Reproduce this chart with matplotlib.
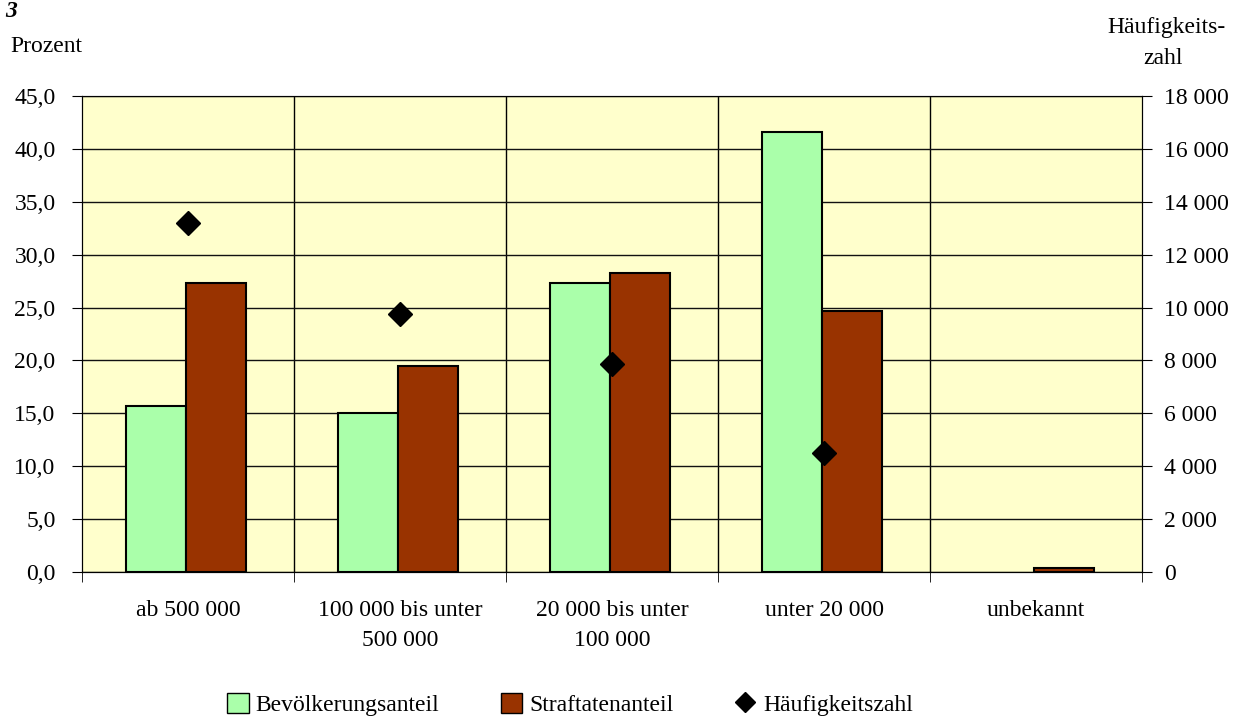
import numpy as np
import matplotlib.pyplot as plt
from matplotlib.ticker import FuncFormatter, MultipleLocator
from matplotlib.lines import Line2D
from matplotlib.patches import Patch

plt.rcParams["font.family"] = ["Liberation Serif", "DejaVu Serif"]

# Gemeindegrößenklassen
categories = ["ab 500 000", "100 000 bis unter\n500 000", "20 000 bis unter\n100 000",
              "unter 20 000", "unbekannt"]
bevoelkerung = [15.7, 15.0, 27.3, 41.6, 0.0]
straftaten = [27.3, 19.5, 28.3, 24.7, 0.4]
hz = [13200, 9750, 7850, 4480, np.nan]

green = "#aaffaa"
red = "#993300"
bg = "#ffffcc"
fs = 17

fig = plt.figure(figsize=(12.42, 7.2), dpi=100)
ax = fig.add_axes([0.066, 0.2056, 0.8535, 0.6611])
ax.set_facecolor(bg)

x = np.arange(len(categories))
w = 0.283
shift = -0.01
bev_plot = [v if v > 0 else np.nan for v in bevoelkerung]
ax.bar(x - w / 2 + shift, bev_plot, w, color=green, edgecolor="black", linewidth=1.5, zorder=3)
ax.bar(x + w / 2 + shift, straftaten, w, color=red, edgecolor="black", linewidth=1.5, zorder=3)

ax.set_xlim(-0.5, len(categories) - 0.5)
ax.set_ylim(0, 45)
ax.yaxis.set_major_locator(MultipleLocator(5))
ax.yaxis.set_major_formatter(FuncFormatter(lambda v, p: f"{v:.1f}".replace(".", ",")))
ax.grid(axis="y", color="#111111", linewidth=1, zorder=0)

# category separators
for b in x[:-1] + 0.5:
    ax.axvline(b, color="black", linewidth=1, zorder=1)
ax.set_xticks(x)
ax.set_xticklabels(categories, fontsize=fs, linespacing=1.6)
ax.tick_params(axis="x", length=0, pad=20)
ax.set_xticks(np.arange(-0.5, len(categories), 1), minor=True)
ax.tick_params(axis="x", which="minor", length=7, direction="out", color="black")
ax.tick_params(axis="y", labelsize=fs, length=7, direction="out", pad=12)

ax.spines["top"].set_color("#808080")
for s in ["left", "bottom", "right"]:
    ax.spines[s].set_color("black")

ax2 = ax.twinx()
ax2.set_ylim(0, 18000)
ax2.yaxis.set_major_locator(MultipleLocator(2000))
ax2.yaxis.set_major_formatter(FuncFormatter(lambda v, p: f"{int(v):,}".replace(",", " ")))
ax2.tick_params(axis="y", labelsize=fs, length=7, direction="out", pad=9)
ax2.plot(x, hz, linestyle="none", marker="D", markersize=12, color="black", zorder=5)

fig.text(0.004, 0.998, "3", fontsize=fs, fontstyle="italic", fontweight="bold", va="top")
fig.text(0.008, 0.935, "Prozent", fontsize=fs, va="center")
fig.text(0.987, 0.962, "Häufigkeits-", fontsize=fs, ha="right", va="center")
fig.text(0.952, 0.919, "zahl", fontsize=fs, ha="right", va="center")

handles = [Patch(facecolor=green, edgecolor="black"),
           Patch(facecolor=red, edgecolor="black"),
           Line2D([], [], linestyle="none", marker="D", color="black", markersize=10)]
fig.legend(handles, ["Bevölkerungsanteil", "Straftatenanteil", "Häufigkeitszahl"],
           loc="center", bbox_to_anchor=(0.459, 0.021), ncol=3, frameon=False,
           fontsize=fs, handlelength=0.9, handleheight=0.9, handletextpad=0.3,
           columnspacing=2.6)

fig.savefig("out.png", dpi=100)
